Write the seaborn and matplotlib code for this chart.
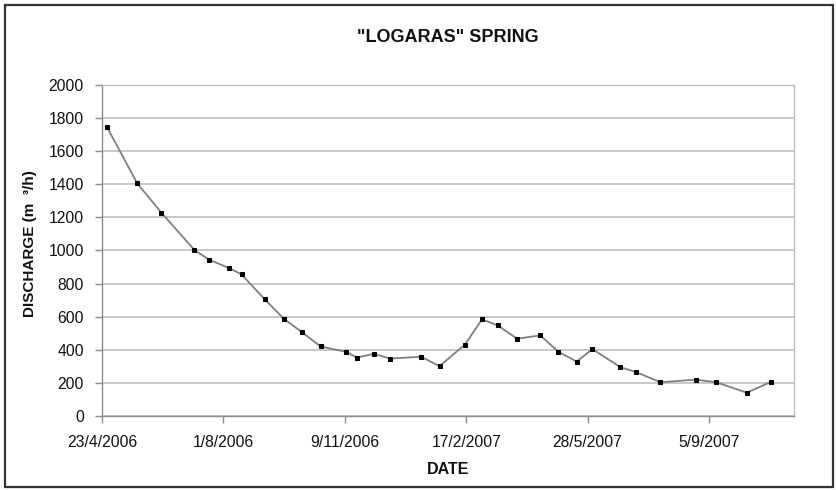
import matplotlib
matplotlib.use("Agg")
import matplotlib.pyplot as plt
import matplotlib.patches as mpatches
import seaborn as sns
import pandas as pd

# ---- data ----
dates = ["27/4/2006", "22/5/2006", "11/6/2006", "8/7/2006", "20/7/2006", "6/8/2006",
         "16/8/2006", "4/9/2006", "20/9/2006", "5/10/2006", "20/10/2006", "10/11/2006",
         "19/11/2006", "3/12/2006", "16/12/2006", "11/1/2007", "26/1/2007", "16/2/2007",
         "2/3/2007", "15/3/2007", "31/3/2007", "19/4/2007", "4/5/2007", "19/5/2007",
         "1/6/2007", "24/6/2007", "7/7/2007", "27/7/2007", "25/8/2007", "11/9/2007",
         "6/10/2007", "26/10/2007"]
discharge = [1747, 1406, 1228, 1004, 945, 893, 855, 705, 586, 505, 420, 388,
             353, 376, 347, 358, 301, 432, 584, 547, 467, 487, 388, 329,
             404, 295, 265, 204, 220, 204, 141, 206]
x_tick_labels = ["23/4/2006", "1/8/2006", "9/11/2006", "17/2/2007", "28/5/2007", "5/9/2007"]
x_limits = ["23/4/2006", "14/11/2007"]
y_ticks = [0, 200, 400, 600, 800, 1000, 1200, 1400, 1600, 1800, 2000]

df = pd.DataFrame({"date": pd.to_datetime(dates, dayfirst=True), "discharge": discharge})

sns.set_theme(style="white")
plt.rcParams["font.family"] = ["Liberation Sans", "DejaVu Sans"]

fig = plt.figure(figsize=(8.37, 4.90), dpi=100)
ax = fig.add_axes([102 / 837, 74 / 490, 692 / 837, 331 / 490])

sns.lineplot(data=df, x="date", y="discharge", ax=ax, color="#808080", linewidth=1.3,
             marker="s", markersize=3.0, markerfacecolor="black", markeredgecolor="black",
             zorder=3)

ax.set_ylim(0, 2000)
ax.set_yticks(y_ticks)
ax.set_yticklabels([str(v) for v in y_ticks])
xl = pd.to_datetime(x_limits, dayfirst=True)
ax.set_xlim(xl[0], xl[1])
ax.set_xticks(pd.to_datetime(x_tick_labels, dayfirst=True))
ax.set_xticklabels(x_tick_labels)

ax.grid(axis="y", color="#bababa", linewidth=1.1)
ax.grid(axis="x", visible=False)
ax.set_axisbelow(True)

for side in ["top", "right"]:
    ax.spines[side].set_color("#c0c0c0")
    ax.spines[side].set_linewidth(1.0)
for side in ["left", "bottom"]:
    ax.spines[side].set_color("#8c8c8c")
    ax.spines[side].set_linewidth(1.0)

ax.tick_params(axis="both", which="major", direction="out", length=5, width=1,
               color="#8c8c8c", labelsize=11.3, labelcolor="#111111")
ax.tick_params(axis="y", pad=8, left=True)
ax.tick_params(axis="x", pad=9, bottom=True)

ax.set_xlabel("DATE", fontsize=11.5, fontweight="bold", color="#111111")
ax.set_ylabel("DISCHARGE (m  ³/h)", fontsize=11, fontweight="bold", color="#111111")
ax.xaxis.set_label_coords(0.5, -0.139)
ax.yaxis.set_label_coords(-0.094, 0.52)

fig.text(448 / 837, 1 - 37 / 490, '"LOGARAS" SPRING', ha="center", va="center",
         fontsize=13, fontweight="bold", color="#111111")

frame = mpatches.Rectangle((5 / 837, 3 / 490), 828 / 837, 482 / 490,
                           transform=fig.transFigure, fill=False,
                           edgecolor="#333333", linewidth=1.6)
fig.patches.append(frame)

fig.savefig("out.png", dpi=100)
